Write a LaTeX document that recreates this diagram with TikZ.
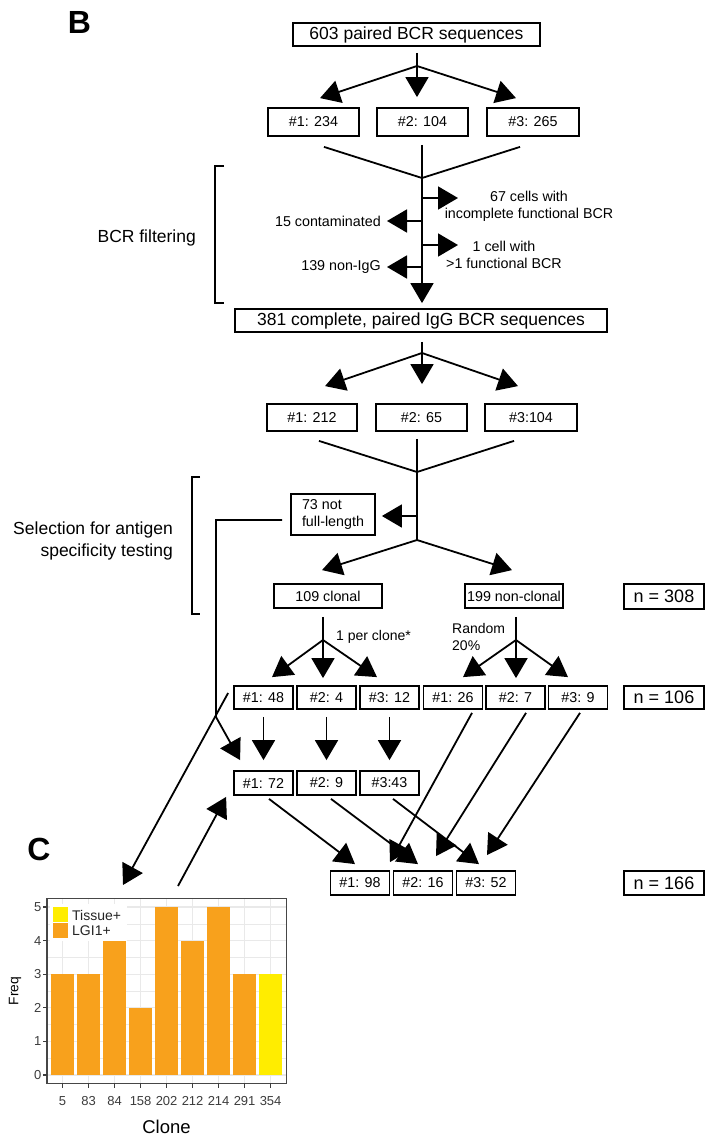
\documentclass[tikz,border=0pt]{standalone}
\usepackage{fontspec}
\setmainfont{Liberation Sans}
\usetikzlibrary{arrows.meta,calc}
\definecolor{barorange}{RGB}{248,161,28}
\definecolor{baryellow}{RGB}{255,237,0}
\definecolor{gridgray}{RGB}{233,233,233}
\definecolor{axgray}{RGB}{60,60,60}
\definecolor{bordgray}{RGB}{70,70,70}
\newcommand\szL{\fontsize{17.5}{22}\selectfont}
\newcommand\szM{\fontsize{14.3}{17}\selectfont}
\newcommand\szS{\fontsize{14}{17}\selectfont}
\newcommand\szN{\fontsize{18}{21}\selectfont}
\newcommand\szT{\fontsize{13}{15}\selectfont}
\begin{document}
\begin{tikzpicture}[x=1pt,y=-1pt,
  box/.style={draw, line width=1.8pt, inner sep=0pt, font=\szM},
  arr/.style={line width=1.8pt, -{Triangle[length=20pt,width=23pt]}},
  ln/.style={line width=1.8pt},
  txt/.style={inner sep=0pt, font=\szM},
  brk/.style={line width=1.5pt},
  gridmaj/.style={gridgray, line width=1.2pt},
  gridmin/.style={gridgray, line width=0.6pt},
  tick/.style={axgray, line width=1.1pt},
  ticklab/.style={font=\szT, text=axgray, inner sep=0pt}
]
\useasboundingbox (0,0) rectangle (710,1140);
\fill[white] (0,0) rectangle (710,1140);

% panel letters
\node[inner sep=0pt, font=\bfseries\fontsize{32}{32}\selectfont] (labB) at (79.5,22) {B};
\node[inner sep=0pt, font=\bfseries\fontsize{32}{32}\selectfont] (labC) at (39,849) {C};

% ---------- nodes ----------
\node[box, font=\szL, minimum width=247pt, minimum height=23pt] (b603) at (416.5,34.5) {603 paired BCR sequences};
\node[box, minimum width=91pt, minimum height=28pt] (r2a) at (313.5,122) {\#1: 234};
\node[box, minimum width=91pt, minimum height=28pt] (r2b) at (422.5,122) {\#2: 104};
\node[box, minimum width=92pt, minimum height=28pt] (r2c) at (533,122) {\#3: 265};

\node[box, font=\szL, minimum width=372pt, minimum height=23pt] (b381) at (421,320.5) {381 complete, paired IgG BCR sequences};
\node[box, minimum width=90pt, minimum height=27pt] (r4a) at (312,417.5) {\#1: 212};
\node[box, minimum width=91pt, minimum height=27pt] (r4b) at (421.5,417.5) {\#2: 65};
\node[box, minimum width=92pt, minimum height=27pt] (r4c) at (531,417.5) {\#3:104};

\node[box, minimum width=84pt, minimum height=41pt, align=left] (b73) at (333,514.5) {73 not\\full-length};
\node[box, minimum width=108pt, minimum height=24pt] (clonal) at (328,596) {109 clonal};
\node[box, minimum width=98pt, minimum height=24pt] (nonclonal) at (514,596) {199 non-clonal};
\node[box, font=\szN, minimum width=80pt, minimum height=25pt] (n308) at (664,596.5) {n = 308};

\node[box, minimum width=59pt, minimum height=23pt] (r3a) at (263.5,697.5) {\#1: 48};
\node[box, minimum width=59pt, minimum height=23pt] (r3b) at (326.5,697.5) {\#2: 4};
\node[box, minimum width=59pt, minimum height=23pt] (r3c) at (389.5,697.5) {\#3: 12};
\node[box, minimum width=59pt, minimum height=23pt] (r3d) at (453,697.5) {\#1: 26};
\node[box, minimum width=59pt, minimum height=23pt] (r3e) at (515.5,697.5) {\#2: 7};
\node[box, minimum width=59pt, minimum height=23pt] (r3f) at (578,697.5) {\#3: 9};
\node[box, font=\szN, minimum width=80pt, minimum height=23pt] (n106) at (664,697.5) {n = 106};

\node[box, minimum width=59pt, minimum height=24pt] (q1) at (263.5,783) {\#1: 72};
\node[box, minimum width=59pt, minimum height=24pt] (q2) at (326.5,783) {\#2: 9};
\node[box, minimum width=59pt, minimum height=24pt] (q3) at (389.5,783) {\#3:43};

\node[box, minimum width=59pt, minimum height=24pt] (p1) at (360,883) {\#1: 98};
\node[box, minimum width=59pt, minimum height=24pt] (p2) at (423,883) {\#2: 16};
\node[box, minimum width=59pt, minimum height=24pt] (p3) at (486,883) {\#3: 52};
\node[box, font=\szN, minimum width=80pt, minimum height=24pt] (n166) at (664,883) {n = 166};

% side texts
\node[txt, align=center] (t67) at (529,206) {67 cells with\\incomplete functional BCR};
\node[txt, anchor=east] (t15) at (381,221) {15 contaminated};
\node[txt, align=center] (t1c) at (504,255) {1 cell with\\>1 functional BCR};
\node[txt, anchor=east] (t139) at (381,267) {139 non-IgG};
\node[inner sep=0pt, font=\szL, anchor=east] (tfilt) at (196,238) {BCR filtering};
\node[inner sep=0pt, font=\szL, anchor=east, align=right] (tsel) at (173,541) {Selection for antigen\\specificity testing};
\node[inner sep=0pt, font=\szS, anchor=west] (tper) at (336,637) {1 per clone*};
\node[inner sep=0pt, font=\szS, anchor=west, align=left] (trand) at (452,636.5) {Random\\20\%};

% ---------- connectors ----------
\coordinate (s1) at (417,66);
\draw[ln] ($(b603.south)+(0.5,6)$) -- (s1);
\draw[arr] (s1) -- ($(r2a.north)+(6.5,-9)$);
\draw[arr] (s1) -- ($(r2b.north)+(-5.5,-10)$);
\draw[arr] (s1) -- ($(r2c.north)+(-17,-9)$);

\coordinate (m1) at (422,178);
\draw[ln] ($(r2a.south)+(10.5,10)$) -- (m1) -- ($(r2c.south)+(-13,10)$);
\draw[arr] ($(r2b.south)+(-0.5,8)$) -- ($(b381.north)+(1,-5)$);

\coordinate (f1) at (422,198); \coordinate (f1t) at (458,198);
\coordinate (f2) at (422,221); \coordinate (f2t) at (387,221);
\coordinate (f3) at (422,245); \coordinate (f3t) at (458,245);
\coordinate (f4) at (422,267); \coordinate (f4t) at (387,267);
\draw[arr] (f1) -- (f1t);
\draw[arr] (f2) -- (f2t);
\draw[arr] (f3) -- (f3t);
\draw[arr] (f4) -- (f4t);

\draw[brk] (224,166) -- (215,166) -- (215,303) -- (224,303);

\coordinate (s2) at (422,353);
\draw[ln] ($(b381.south)+(1,9)$) -- (s2);
\draw[arr] (s2) -- ($(r4a.north)+(13,-17)$);
\draw[arr] (s2) -- ($(r4b.north)+(0.5,-19)$);
\draw[arr] (s2) -- ($(r4c.north)+(-13,-17)$);

\coordinate (m2) at (417,472);
\coordinate (s3) at (417,540);
\coordinate (j2) at (417,516);
\draw[ln] ($(r4a.south)+(7,9)$) -- (m2) -- ($(r4c.south)+(-17,9)$);
\draw[ln] ($(r4b.south)+(-4.5,7)$) -- (s3);
\draw[arr] (j2) -- ($(b73.east)+(6,1.5)$);
\draw[arr] (s3) -- ($(clonal.north)+(-6,-13)$);
\draw[arr] (s3) -- ($(nonclonal.north)+(-2,-13)$);

\draw[brk] (200,477) -- (192,477) -- (192,614) -- (200,614);

\coordinate (s4) at (323,640);
\draw[ln] ($(clonal.south)+(-5,8)$) -- (s4);
\draw[arr] (s4) -- ($(r3a.north)+(8.5,-8)$);
\draw[arr] (s4) -- ($(r3b.north)+(-3.5,-7)$);
\draw[arr] (s4) -- ($(r3c.north)+(-12.5,-8)$);

\coordinate (s5) at (516,640);
\draw[ln] ($(nonclonal.south)+(2,8)$) -- (s5);
\draw[arr] (s5) -- ($(r3d.north)+(10,-8)$);
\draw[arr] (s5) -- ($(r3e.north)+(0.5,-7)$);
\draw[arr] (s5) -- ($(r3f.north)+(-10,-8)$);

\draw[arr] ($(r3a.south)+(0,7)$) -- ($(q1.north)+(0,-10)$);
\draw[arr] ($(r3b.south)+(0,7)$) -- ($(q2.north)+(0,-10)$);
\draw[arr] ($(r3c.south)+(0,7)$) -- ($(q3.north)+(0,-10)$);

\draw[arr] ($(q1.south)+(5.5,3)$) -- ($(p1.north)+(-5,-6)$);
\draw[arr] ($(q2.south)+(4.5,3)$) -- ($(p2.north)+(-5,-6)$);
\draw[arr] ($(q3.south)+(3.5,3)$) -- ($(p3.north)+(-7,-6)$);
\draw[arr] ($(r3d.south)+(19,3)$) -- ($(p1.north)+(30,-8)$);
\draw[arr] ($(r3e.south)+(10.5,3)$) -- ($(p2.north)+(13,-14)$);
\draw[arr] ($(r3f.south)+(2,3)$) -- ($(p3.north)+(1,-15)$);

\coordinate (j73) at (216,717);
\coordinate (cin) at (123,885);
\coordinate (cout) at (178,886);
\draw[arr] ($(b73.west)+(-8,5.5)$) -| (j73) -- ($(q1.north west)+(7,-10)$);
\draw[arr] ($(r3a.west)+(-5,-4.5)$) -- (cin);
\draw[arr] (cout) -- ($(q1.south west)+(-7,1)$);

% ---------- chart C ----------
\fill[white] (47,898.6) rectangle (286.2,1083.4);
\foreach \v in {0.5,1.5,2.5,3.5,4.5} \draw[gridmin] (47,{1075-\v*33.6}) -- (286.2,{1075-\v*33.6});
\foreach \v in {0,...,5} \draw[gridmaj] (47,{1075-\v*33.6}) -- (286.2,{1075-\v*33.6});
\foreach \i in {1,...,9} \draw[gridmaj] ({47+(\i-0.4)*26},898.6) -- ({47+(\i-0.4)*26},1083.4);
\foreach \i/\v in {1/3,2/3,3/4,4/2,5/5,6/4,7/5,8/3}
  \fill[barorange] ({47+(\i-0.4)*26-11.7},1075) rectangle ({47+(\i-0.4)*26+11.7},{1075-\v*33.6});
\fill[baryellow] ({47+8.6*26-11.7},1075) rectangle ({47+8.6*26+11.7},{1075-3*33.6});
% legend
\fill[white] (50,904) rectangle (127,941);
\fill[baryellow] (53,907) rectangle (68,922);
\fill[barorange] (53,923) rectangle (68,938);
\node[inner sep=0pt, anchor=west, font=\fontsize{14}{16}\selectfont, text=axgray!60!black] (legT) at (72,915) {Tissue+};
\node[inner sep=0pt, anchor=west, font=\fontsize{14}{16}\selectfont, text=axgray!60!black] (legL) at (72,931) {LGI1+};
\draw[bordgray, line width=1.1pt] (47,898.6) rectangle (286.2,1083.4);
\foreach \v in {0,...,5} {
  \draw[tick] (43,{1075-\v*33.6}) -- (47,{1075-\v*33.6});
  \node[ticklab, anchor=east] (yl\v) at (41.5,{1075-\v*33.6}) {\v};
}
\foreach \i/\lab in {1/5,2/83,3/84,4/158,5/202,6/212,7/214,8/291,9/354} {
  \draw[tick] ({47+(\i-0.4)*26},1083.4) -- ({47+(\i-0.4)*26},1088);
  \node[ticklab, anchor=north] (xl\i) at ({47+(\i-0.4)*26},1096) {\lab};
}
\node[inner sep=0pt, font=\fontsize{18.5}{20}\selectfont] (xtitle) at (166.5,1127) {Clone};
\node[inner sep=0pt, rotate=90, font=\fontsize{13.8}{15}\selectfont] (ytitle) at (15,991) {Freq};
\end{tikzpicture}
\end{document}
